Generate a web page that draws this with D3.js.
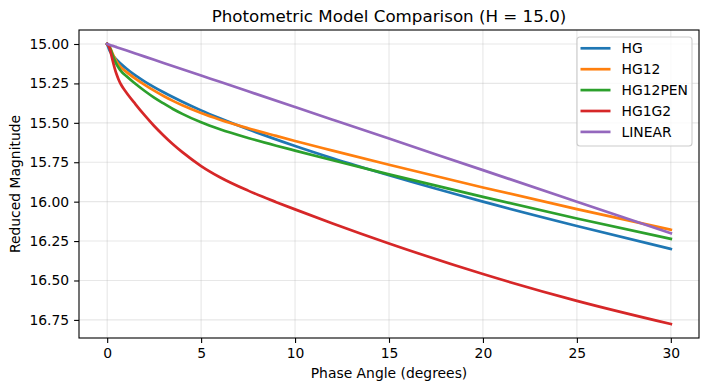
<!DOCTYPE html>
<html>
<head>
<meta charset="utf-8">
<script src="https://cdn.jsdelivr.net/npm/d3@7"></script>
<style>
  body { margin: 0; background: #fff; }
  text { font-family: "DejaVu Sans", sans-serif; fill: #000; }
</style>
</head>
<body>
<div id="chart"></div>
<script>
var hgAngles    = [0, 0.15, 0.3, 0.5, 1, 1.5, 2, 3, 4, 5, 6, 7.5, 10, 12, 15, 20, 25, 30];
var phaseAngles = [0, 0.1, 0.2, 0.3, 0.4, 0.5, 0.6, 0.75, 1, 1.5, 2, 2.5, 3, 3.5, 4, 5, 6, 7.5, 9, 10, 12, 15, 20, 25, 30];

// Reduced magnitude for each model
var hgValues      = [15.000, 15.047, 15.072, 15.100, 15.154, 15.199, 15.238, 15.306, 15.366, 15.421, 15.471, 15.541, 15.647, 15.725, 15.833, 16.000, 16.154, 16.300];
var linearValues  = [15.000, 15.006, 15.012, 15.020, 15.040, 15.060, 15.080, 15.120, 15.160, 15.200, 15.240, 15.300, 15.400, 15.480, 15.600, 15.800, 16.000, 16.200];
var hg12Values    = [15.000, 15.011, 15.035, 15.064, 15.090, 15.112, 15.129, 15.150, 15.175, 15.219, 15.259, 15.296, 15.330, 15.361, 15.389, 15.438, 15.480, 15.534, 15.583, 15.615, 15.676, 15.766, 15.910, 16.047, 16.178];
var hg12penValues = [15.000, 15.012, 15.040, 15.074, 15.104, 15.129, 15.149, 15.173, 15.202, 15.252, 15.298, 15.340, 15.377, 15.412, 15.443, 15.497, 15.541, 15.596, 15.645, 15.676, 15.737, 15.827, 15.970, 16.107, 16.236];
var hg1g2Values   = [15.000, 15.018, 15.059, 15.109, 15.154, 15.192, 15.223, 15.260, 15.304, 15.381, 15.453, 15.520, 15.580, 15.636, 15.686, 15.774, 15.845, 15.930, 16.003, 16.049, 16.138, 16.265, 16.459, 16.629, 16.776];

var seriesNames  = ["HG", "HG12", "HG12PEN", "HG1G2", "LINEAR"];
var seriesColors = ["#1f77b4", "#ff7f0e", "#2ca02c", "#d62728", "#9467bd"];

var xTicks = [0, 5, 10, 15, 20, 25, 30];
var yTicks = [15.00, 15.25, 15.50, 15.75, 16.00, 16.25, 16.50, 16.75];

// SVG size and chart margins
var svgWidth = 709;
var svgHeight = 391;
var margin = { top: 30, right: 10, bottom: 53, left: 79 };
var chartWidth = svgWidth - margin.left - margin.right;
var chartHeight = svgHeight - margin.top - margin.bottom;

var seriesAngles = [hgAngles, phaseAngles, phaseAngles, phaseAngles, hgAngles];
var series = [hgValues, hg12Values, hg12penValues, hg1g2Values, linearValues].map(function(vals, i) {
  return {
    name: seriesNames[i],
    color: seriesColors[i],
    points: vals.map(function(v, j) { return { x: seriesAngles[i][j], y: v }; })
  };
});

var svg = d3.select("#chart").append("svg")
  .attr("width", svgWidth)
  .attr("height", svgHeight);

var chartGroup = svg.append("g")
  .attr("transform", `translate(${margin.left}, ${margin.top})`);

// scales with matplotlib style 5% margins
var xExt = d3.extent(phaseAngles);
var xPad = (xExt[1] - xExt[0]) * 0.05;
var xScale = d3.scaleLinear()
  .domain([xExt[0] - xPad, xExt[1] + xPad])
  .range([0, chartWidth]);

var allY = d3.merge(series.map(function(s) { return s.points.map(function(p) { return p.y; }); }));
var yExt = d3.extent(allY);
var yPad = (yExt[1] - yExt[0]) * 0.05;
var yScale = d3.scaleLinear()
  .domain([yExt[0] - yPad, yExt[1] + yPad])
  .range([0, chartHeight]);   // inverted: brighter at the top

// grid lines
chartGroup.append("g").selectAll("line")
  .data(xTicks).enter().append("line")
  .attr("x1", d => xScale(d)).attr("x2", d => xScale(d))
  .attr("y1", 0).attr("y2", chartHeight)
  .attr("stroke", "#b0b0b0").attr("stroke-opacity", 0.3).attr("stroke-width", 1.1);

chartGroup.append("g").selectAll("line")
  .data(yTicks).enter().append("line")
  .attr("x1", 0).attr("x2", chartWidth)
  .attr("y1", d => yScale(d)).attr("y2", d => yScale(d))
  .attr("stroke", "#b0b0b0").attr("stroke-opacity", 0.3).attr("stroke-width", 1.1);

// axes
var xAxis = d3.axisBottom(xScale).tickValues(xTicks).tickFormat(d3.format("d"))
  .tickSizeInner(4.9).tickSizeOuter(0).tickPadding(4.9);
var yAxis = d3.axisLeft(yScale).tickValues(yTicks).tickFormat(d3.format(".2f"))
  .tickSizeInner(4.9).tickSizeOuter(0).tickPadding(4.9);

var gx = chartGroup.append("g")
  .attr("transform", `translate(0, ${chartHeight})`)
  .call(xAxis);
var gy = chartGroup.append("g").call(yAxis);

[gx, gy].forEach(function(g) {
  g.select(".domain").remove();
  g.selectAll(".tick line").attr("stroke", "#000").attr("stroke-width", 1.1);
  g.selectAll(".tick text").attr("font-size", "13.9px").attr("font-family", "DejaVu Sans").attr("fill", "#000");
});

// lines
var line = d3.line()
  .x(d => xScale(d.x))
  .y(d => yScale(d.y))
  .curve(d3.curveMonotoneX);

chartGroup.append("g").selectAll("path")
  .data(series).enter().append("path")
  .attr("d", d => line(d.points))
  .attr("fill", "none")
  .attr("stroke", d => d.color)
  .attr("stroke-width", 2.7)
  .attr("stroke-linejoin", "round")
  .attr("stroke-linecap", "square");

// spines
chartGroup.append("rect")
  .attr("x", 0).attr("y", 0)
  .attr("width", chartWidth).attr("height", chartHeight)
  .attr("fill", "none").attr("stroke", "#000").attr("stroke-width", 1.1);

// title and axis labels
svg.append("text")
  .attr("x", margin.left + chartWidth / 2)
  .attr("y", margin.top - 8.3)
  .attr("text-anchor", "middle")
  .attr("font-size", "16.7px")
  .text("Photometric Model Comparison (H = 15.0)");

svg.append("text")
  .attr("x", margin.left + chartWidth / 2)
  .attr("y", 378)
  .attr("text-anchor", "middle")
  .attr("font-size", "13.9px")
  .text("Phase Angle (degrees)");

svg.append("text")
  .attr("transform", "rotate(-90)")
  .attr("x", -(margin.top + chartHeight / 2))
  .attr("y", 20)
  .attr("text-anchor", "middle")
  .attr("font-size", "13.9px")
  .text("Reduced Magnitude");

// legend
var legend = svg.append("g").attr("transform", "translate(577, 37)");
legend.append("rect")
  .attr("width", 115).attr("height", 109)
  .attr("rx", 3).attr("ry", 3)
  .attr("fill", "#fff").attr("fill-opacity", 0.8)
  .attr("stroke", "#cccccc").attr("stroke-width", 1.1);

var legendRows = legend.selectAll("g.row")
  .data(series).enter().append("g")
  .attr("class", "row")
  .attr("transform", (d, i) => `translate(0, ${11.3 + i * 20.9})`);

legendRows.append("line")
  .attr("x1", 3.5).attr("x2", 33.5)
  .attr("y1", 0).attr("y2", 0)
  .attr("stroke", d => d.color)
  .attr("stroke-width", 2.7);

legendRows.append("text")
  .attr("x", 44.5)
  .attr("y", 0)
  .attr("dy", "0.36em")
  .attr("font-size", "13.9px")
  .text(d => d.name);
</script>
</body>
</html>
